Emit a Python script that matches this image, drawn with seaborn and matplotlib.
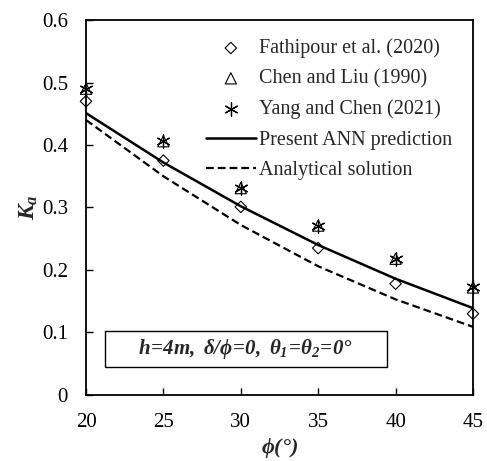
import matplotlib
matplotlib.use("Agg")
import matplotlib.pyplot as plt
from matplotlib.patches import Rectangle
import seaborn as sns
import pandas as pd

phi = [20, 25, 30, 35, 40, 45]
fathipour = [0.47, 0.375, 0.301, 0.235, 0.178, 0.130]
chen_liu = [0.490, 0.406, 0.331, 0.271, 0.218, 0.172]
yang_chen = [0.490, 0.406, 0.331, 0.271, 0.218, 0.172]
ann = [0.451, 0.372, 0.302, 0.240, 0.186, 0.139]
analytical = [0.440, 0.350, 0.272, 0.206, 0.153, 0.109]
labels = ["Fathipour et al. (2020)", "Chen and Liu (1990)", "Yang and Chen (2021)",
          "Present ANN prediction", "Analytical solution"]

sns.set_style("ticks")
plt.rcParams['font.family'] = ['Liberation Serif', 'DejaVu Serif']
plt.rcParams['mathtext.fontset'] = 'custom'
plt.rcParams['mathtext.it'] = 'Liberation Serif:italic:bold'
plt.rcParams['mathtext.rm'] = 'Liberation Serif:italic:bold'
plt.rcParams['mathtext.bf'] = 'Liberation Serif:italic:bold'

df = pd.DataFrame({"phi": phi, "f": fathipour, "c": chen_liu, "y": yang_chen,
                   "ann": ann, "an": analytical})

fig = plt.figure(figsize=(4.87, 4.61), dpi=100)
ax = fig.add_axes([0.1766, 0.1432, 0.7946, 0.8134])

sns.scatterplot(data=df, x="phi", y="f", ax=ax, marker="D", s=34, facecolor="none",
                edgecolor="black", linewidth=0.8, label=labels[0], clip_on=False, zorder=5)
sns.scatterplot(data=df, x="phi", y="c", ax=ax, marker="^", s=65, facecolor="none",
                edgecolor="black", linewidth=0.8, label=labels[1], clip_on=False, zorder=5)
sns.scatterplot(data=df, x="phi", y="y", ax=ax, marker=(6, 2, 0), s=90, color="black",
                linewidth=0.9, label=labels[2], clip_on=False, zorder=5)
sns.lineplot(data=df, x="phi", y="ann", ax=ax, color="black", linewidth=1.8,
             label=labels[3])
sns.lineplot(data=df, x="phi", y="an", ax=ax, color="black", linewidth=1.6,
             linestyle=(0, (3.5, 1.8)), label=labels[4])

ax.set_xlim(20, 45)
ax.set_ylim(0, 0.6)
ax.set_xticks([20, 25, 30, 35, 40, 45])
ax.set_yticks([0, 0.1, 0.2, 0.3, 0.4, 0.5, 0.6])
ax.set_yticklabels(["0", "0.1", "0.2", "0.3", "0.4", "0.5", "0.6"])
ax.tick_params(direction="in", length=5, width=1, labelsize=15, colors="black", pad=13)
for sp in ax.spines.values():
    sp.set_visible(True)
    sp.set_linewidth(1.3)
    sp.set_color("black")

ax.set_xlabel(r"$\phi(°)$", fontsize=16, labelpad=3)
ax.set_ylabel(r"$K_a$", fontsize=17, labelpad=1)

leg = ax.legend(loc="upper right", frameon=False, fontsize=14.5, handlelength=2.5,
                handletextpad=0.15, labelspacing=0.55, borderaxespad=0.0,
                bbox_to_anchor=(0.967, 0.972))

ax.add_patch(Rectangle((0.049, 0.0747), 0.729, 0.096, transform=ax.transAxes,
                       facecolor="white", edgecolor="black", linewidth=1, zorder=6))
ax.text(30.3, 0.0736, r"$h\!=\!4m,\ \delta/\phi\!=\!0,\ \theta_1\!=\!\theta_2\!=\!0°$",
        fontsize=15, ha="center", va="center", zorder=7)

fig.savefig("out.png", dpi=100)
